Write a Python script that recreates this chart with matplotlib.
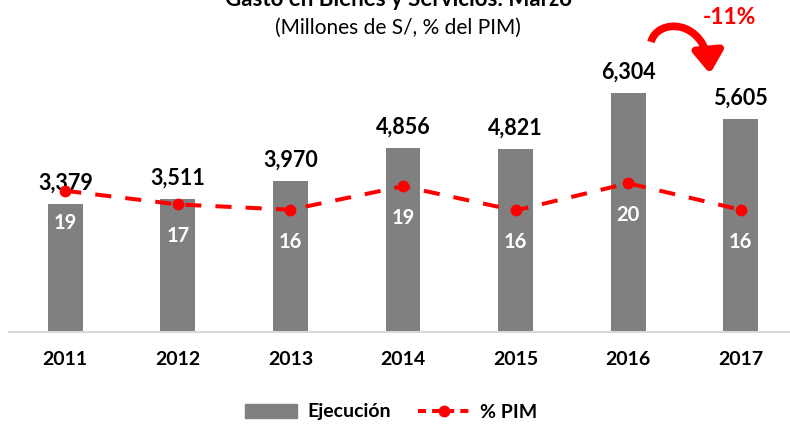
import numpy as np
import matplotlib.pyplot as plt
from matplotlib.patches import FancyArrowPatch, Patch
from matplotlib.lines import Line2D
from matplotlib.path import Path

plt.rcParams['font.family'] = ['Lato', 'DejaVu Sans']

# datos
anios = ['2011', '2012', '2013', '2014', '2015', '2016', '2017']
ejecucion = [3379, 3511, 3970, 4856, 4821, 6304, 5605]
pim = [18.6, 16.8, 16.1, 19.2, 16.0, 19.6, 16.1]

gris = '#808080'
rojo = '#FF0000'

fig = plt.figure(figsize=(7.9, 4.26), dpi=100)
ax = fig.add_axes([9 / 790, (426 - 331.7) / 426, 788 / 790, 303 / 426])
x = np.arange(len(anios))

ax.bar(x, ejecucion, width=0.31, color=gris, zorder=2)
ax.set_xlim(-0.5, 6.5)
ax.set_ylim(0, 8000)
ax.set_xticks(x)
ax.set_xticklabels(anios, fontsize=14, fontweight='bold')
ax.tick_params(axis='x', length=0, pad=14)
ax.set_yticks([])
for s in ['top', 'left', 'right']:
    ax.spines[s].set_visible(False)
ax.spines['bottom'].set_color('#d9d9d9')
ax.spines['bottom'].set_linewidth(1.5)

for xi, v in zip(x, ejecucion):
    ax.annotate(f'{v:,}', (xi, v), xytext=(0, 15), textcoords='offset points',
                ha='center', va='center', fontsize=15.5, fontweight='bold')

# % PIM en eje secundario
ax2 = ax.twinx()
ax2.set_ylim(0, 40)
ax2.axis('off')
ax2.plot(x, pim, color=rojo, lw=2.9, ls=(0, (4, 3.5)), marker='o', ms=7.5, zorder=3)
for xi, p in zip(x, pim):
    ax2.annotate(f'{p:.0f}', (xi, p), xytext=(0, -23), textcoords='offset points',
                 ha='center', va='center', fontsize=14.5, fontweight='bold', color='white')

# titulo
fig.text(0.505, 1 - 6 / 426, 'Gasto en Bienes y Servicios: Marzo', ha='center', va='baseline',
         fontsize=16, fontweight='bold')
fig.text(0.504, 1 - 28 / 426, '(Millones de S/, % del PIM)', ha='center', va='center', fontsize=15)

# variacion 2016-2017
var = (ejecucion[-1] / ejecucion[-2] - 1) * 100
fig.text(729 / 790, 1 - 17.5 / 426, f'{var:.0f}%', ha='center', va='center',
         fontsize=16.5, fontweight='bold', color=rojo)

# flecha curva (pixeles -> fraccion de figura)
pts_px = [(651, 42), (657, 18), (705, 18), (710, 74)]
pts = [(px / 790, 1 - py / 426) for px, py in pts_px]
curva = Path(pts, [Path.MOVETO, Path.CURVE4, Path.CURVE4, Path.CURVE4])
flecha = FancyArrowPatch(path=curva, transform=fig.transFigure,
                         arrowstyle='-|>,head_length=0.65,head_width=0.45',
                         mutation_scale=20, color=rojo, lw=5.5, capstyle='butt')
fig.add_artist(flecha)

# leyenda
handles = [Patch(color=gris, label='Ejecución'),
           Line2D([], [], color=rojo, lw=2.9, ls=(0, (2, 1.5)), marker='o', ms=7.5, label='% PIM')]
fig.legend(handles=handles, loc='center', bbox_to_anchor=(391 / 790, 1 - 412 / 426), ncol=2,
           frameon=False, prop={'size': 14, 'weight': 'bold'}, handlelength=2.7,
           handleheight=0.7, columnspacing=1.4, handletextpad=0.5)

fig.savefig('out.png', dpi=100)
